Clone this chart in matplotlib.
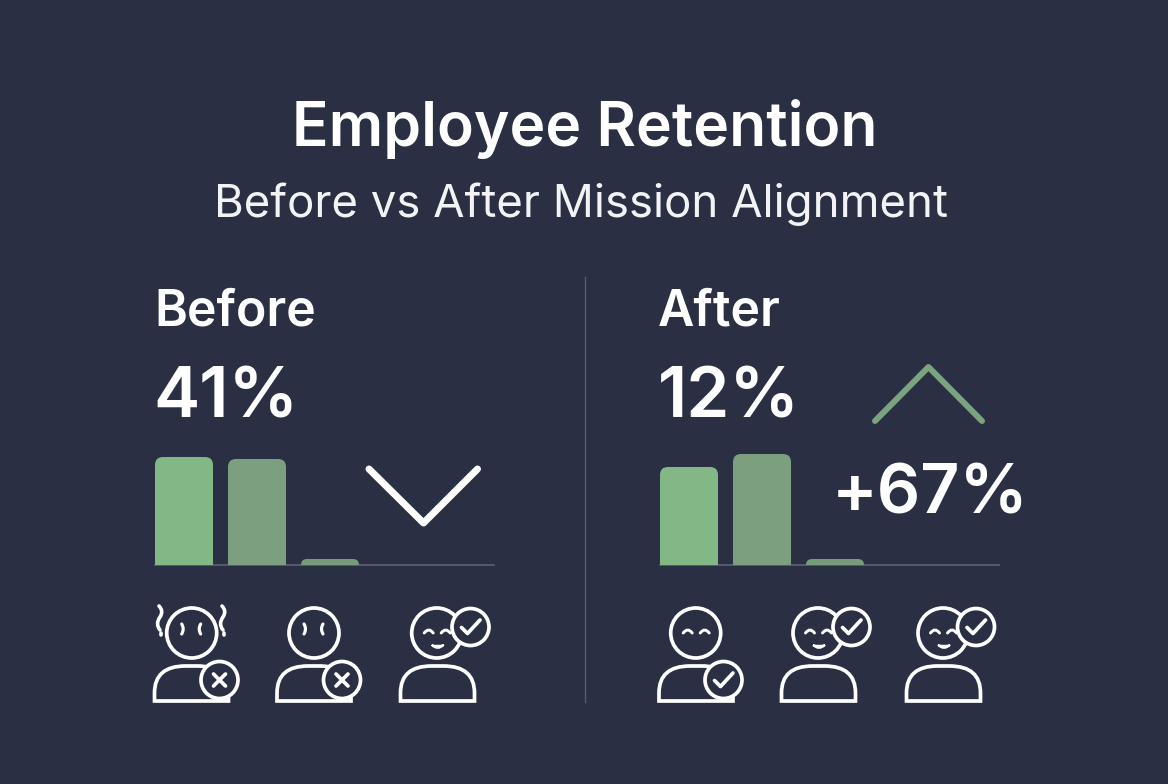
import matplotlib
matplotlib.use("Agg")
import matplotlib.pyplot as plt
from matplotlib.path import Path
from matplotlib.patches import PathPatch, Circle

BG = "#2a2f43"
WHITE = "#ffffff"
GREEN = "#7ba37e"

title = "Employee Retention"
subtitle = "Before vs After Mission Alignment"
panels = ["Before", "After"]
retention = ["41%", "12%"]
change = "+67%"
before_values = [108, 106, 6]
after_values = [98, 111, 6]
bar_colors = ["#84b786", "#7c9f80", "#779c79"]

W, H = 1168, 784
fig = plt.figure(figsize=(W / 100, H / 100), dpi=100, facecolor=BG)
plt.rcParams["font.family"] = ["Inter", "DejaVu Sans"]
LW = 3.7 * 0.72

ov = fig.add_axes([0, 0, 1, 1], zorder=3)
ov.set_xlim(0, W)
ov.set_ylim(H, 0)
ov.axis("off")
ov.patch.set_alpha(0)


def bars(left, values):
    ax = fig.add_axes([left / W, 1 - 565 / H, 339 / W, 120 / H], zorder=2)
    ax.patch.set_alpha(0)
    ax.set_xlim(0, 339 / 73)
    ax.set_ylim(0, 120)
    ax.axis("off")
    ax.plot([0, 339 / 73], [0, 0], color="#5d6376", lw=1.2, clip_on=False, zorder=1)
    bw = 58 / 73
    rx, ry = 8 / 73, 8
    for i, v in enumerate(values):
        r = min(ry, v)
        k = rx * r / ry
        verts = [(i, 0), (i, v - r), (i, v), (i + k, v), (i + bw - k, v),
                 (i + bw, v), (i + bw, v - r), (i + bw, 0), (i, 0)]
        codes = [Path.MOVETO, Path.LINETO, Path.CURVE3, Path.CURVE3, Path.LINETO,
                 Path.CURVE3, Path.CURVE3, Path.LINETO, Path.CLOSEPOLY]
        ax.add_patch(PathPatch(Path(verts, codes), fc=bar_colors[i], ec="none", zorder=2))


bars(155, before_values)
bars(660, after_values)


def stroke(pts, color=WHITE, lw=LW, z=5):
    xs, ys = zip(*pts)
    ov.plot(xs, ys, color=color, lw=lw, solid_capstyle="round", solid_joinstyle="round", zorder=z)


def curve(pts, lw=LW, z=5):
    codes = [Path.MOVETO] + [Path.CURVE3] * (len(pts) - 1)
    ov.add_patch(PathPatch(Path(pts, codes), fc="none", ec=WHITE, lw=lw, capstyle="round", zorder=z))


def badge(cx, cy, kind):
    ov.add_patch(Circle((cx, cy), 18.5, fc=BG, ec=WHITE, lw=LW, zorder=7))
    if kind == "x":
        stroke([(cx - 6, cy - 6), (cx + 6, cy + 6)], z=8)
        stroke([(cx - 6, cy + 6), (cx + 6, cy - 6)], z=8)
    else:
        stroke([(cx - 9, cy + 0.5), (cx - 3, cy + 6.5), (cx + 9.5, cy - 7)], z=8)


def person(hx, left, mood, bx, by, kind, mouth=False, sweat=False):
    right = left + 74
    ov.add_patch(Circle((hx, 633), 25, fc="none", ec=WHITE, lw=LW, zorder=4))
    body = [(left, 701), (left, 693), (left, 666), (left + 31, 666), (right - 31, 666),
            (right, 666), (right, 693), (right, 701), (left, 701)]
    codes = [Path.MOVETO, Path.LINETO, Path.CURVE3, Path.CURVE3, Path.LINETO,
             Path.CURVE3, Path.CURVE3, Path.LINETO, Path.CLOSEPOLY]
    ov.add_patch(PathPatch(Path(body, codes), fc="none", ec=WHITE, lw=LW, zorder=4))
    if mood == "sad":
        curve([(hx - 10, 624), (hx - 7, 629), (hx - 10, 634)], lw=LW * 0.85)
        curve([(hx + 9, 624), (hx + 6, 629), (hx + 9, 634)], lw=LW * 0.85)
    else:
        curve([(hx - 12.5, 633), (hx - 8, 627), (hx - 3.5, 633)], lw=LW * 0.8)
        curve([(hx + 4.5, 633), (hx + 9, 627), (hx + 13.5, 633)], lw=LW * 0.8)
    if mouth:
        mp = [(hx - 5, 645), (hx + 1, 651), (hx + 7, 645), (hx + 1, 647), (hx - 5, 645)]
        mc = [Path.MOVETO, Path.CURVE3, Path.CURVE3, Path.CURVE3, Path.CURVE3]
        ov.add_patch(PathPatch(Path(mp, mc), fc=WHITE, ec=WHITE, lw=1.4, zorder=5))
    if sweat:
        for x in (160, 223):
            curve([(x - 1, 606), (x + 4, 611), (x, 617), (x - 5, 624), (x, 630)], lw=2.6)
            stroke([(x + 0.5, 633), (x + 0.5, 634.5)], lw=2.6)
    badge(bx, by, kind)


person(191.7, 154.5, "sad", 219.5, 680, "x", sweat=True)
person(314, 277, "sad", 342, 680, "x")
person(436.7, 400.5, "happy", 470.5, 627, "check", mouth=True)
person(695.7, 659, "happy", 723.5, 680, "check")
person(818, 781.5, "happy", 851.5, 627, "check", mouth=True)
person(943, 906.5, "happy", 976, 627, "check", mouth=True)

stroke([(369, 469), (423.5, 523), (477.5, 469)], lw=7 * 0.72)
stroke([(875, 421), (928.5, 367), (982, 421)], color=GREEN, lw=6 * 0.72)
ov.plot([585, 585], [277, 702], color="#565c6e", lw=1.0, zorder=1)

ov.text(584.5, 146, title, color=WHITE, fontsize=43.6, fontweight=600, ha="center", va="baseline")
ov.text(581.5, 217, subtitle, color="#f2f3f5", fontsize=32.8, fontweight=400, ha="center", va="baseline")
for x, name, pct in zip((154, 658), panels, retention):
    ov.text(x, 325, name, color=WHITE, fontsize=36, fontweight=600, ha="left", va="baseline")
    ov.text(x - 0.5, 417, pct, color=WHITE, fontsize=50, fontweight=600, ha="left", va="baseline")
ov.text(832, 513, change, color=WHITE, fontsize=49, fontweight=600, ha="left", va="baseline")

fig.savefig("out.png", dpi=100, facecolor=BG)
